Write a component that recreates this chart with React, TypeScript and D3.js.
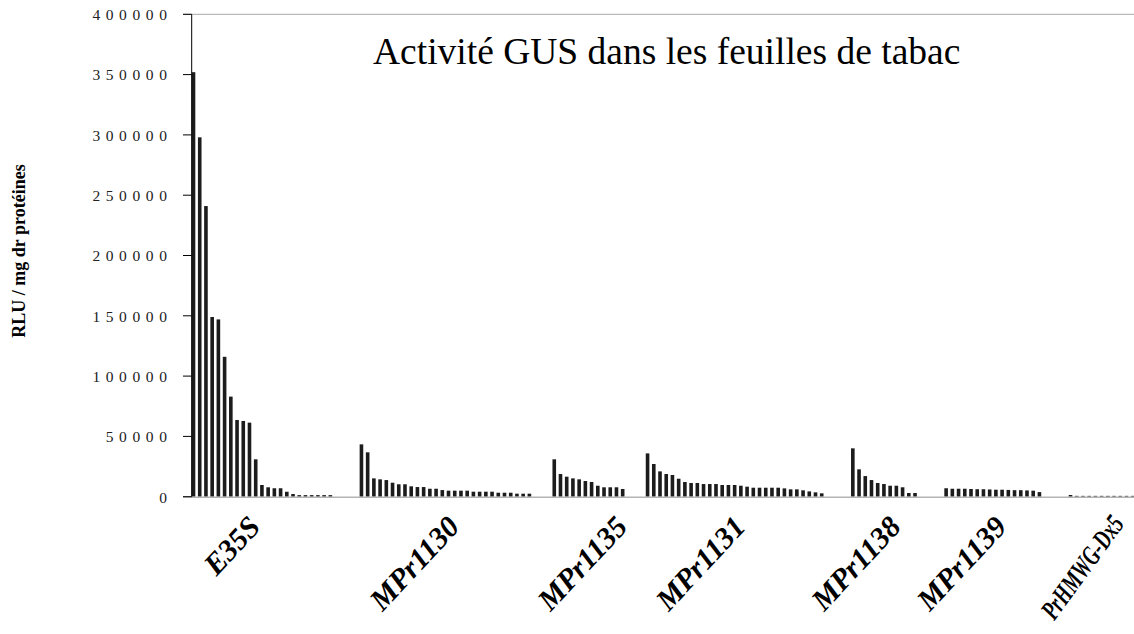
import React, { useEffect, useRef } from "react";
import * as d3 from "d3";

const WIDTH = 1134;
const HEIGHT = 634;

// RLU / mg protein, one bar per tobacco plant
const e35s = [352000, 298000, 241000, 149000, 147000, 116000, 83000, 63600, 62800, 61400, 31000, 9700, 7800, 7000, 7000, 4100, 2200, 1300, 1300, 1300, 1300, 1300, 1300];
const mpr1130 = [43400, 36800, 15200, 14400, 13800, 11600, 10300, 10300, 8600, 8000, 8000, 6600, 6600, 5500, 5000, 5000, 5000, 5000, 4150, 4150, 4150, 4150, 3300, 3300, 3300, 2500, 2500, 2500];
const mpr1135 = [31000, 18800, 16600, 15200, 14400, 13000, 12200, 9100, 7800, 7800, 7800, 6400];
const mpr1131 = [35900, 27100, 21000, 18800, 18000, 14900, 12200, 11350, 11350, 10500, 10500, 10500, 9700, 9700, 9700, 9100, 8300, 7450, 7450, 7450, 7450, 7450, 6900, 6100, 6100, 5300, 4400, 3600, 2800];
const mpr1138 = [40100, 22700, 17100, 13800, 11350, 10500, 9100, 9100, 7800, 3050, 3050];
const mpr1139 = [7000, 6600, 6600, 6600, 6400, 6200, 6200, 6000, 5800, 5800, 5600, 5400, 5400, 5200, 5000, 3800];
const prhmwg = [1400, 700, 700, 700, 700, 700, 700, 700, 700, 700, 700];

const groupNames = ["E35S", "MPr1130", "MPr1135", "MPr1131", "MPr1138", "MPr1139", "PrHMWG-Dx5"];
const groupValues = [e35s, mpr1130, mpr1135, mpr1131, mpr1138, mpr1139, prhmwg];
// empty categories between two groups
const emptyBetween = [4, 3, 3, 4, 4, 4];
// category that carries each group name on the axis
const labelCategory = [11, 43, 70, 89, 114, 131, 151];
const yTicks = [0, 50000, 100000, 150000, 200000, 250000, 300000, 350000, 400000];

const title = "Activité GUS dans les feuilles de tabac";
const yTitle = "RLU / mg dr protéines";

const serif = "'Liberation Serif', 'Times New Roman', serif";

function buildCategories() {
  const out: (number | null)[] = [];
  groupValues.forEach((vals, g) => {
    vals.forEach((v) => out.push(v));
    if (g < emptyBetween.length) {
      for (let k = 0; k < emptyBetween[g]; k++) out.push(null);
    }
  });
  return out;
}

export default function App() {
  const ref = useRef<SVGSVGElement>(null);

  useEffect(() => {
    const svg = d3.select(ref.current);
    svg.selectAll("*").remove();

    const left = 191.7;
    const top = 14.3;
    const bottom = 496.7;
    const step = 6.22;

    const cats = buildCategories();

    const x = d3
      .scaleBand<number>()
      .domain(d3.range(cats.length))
      .range([left, left + cats.length * step])
      .padding(0);
    const y = d3.scaleLinear().domain([0, 400000]).range([bottom, top]);

    // top border
    svg
      .append("line")
      .attr("x1", 183)
      .attr("x2", WIDTH)
      .attr("y1", y(400000))
      .attr("y2", y(400000))
      .attr("stroke", "#a8a8a8")
      .attr("stroke-width", 1);

    // bars
    svg
      .append("g")
      .selectAll("rect")
      .data(cats.map((v, i) => ({ v, i })).filter((d) => d.v !== null))
      .join("rect")
      .attr("x", (d) => x(d.i)!)
      .attr("y", (d) => y(d.v as number))
      .attr("width", x.bandwidth() * 0.58)
      .attr("height", (d) => bottom - y(d.v as number))
      .attr("fill", "#1c1c1c");

    // baseline
    svg
      .append("line")
      .attr("x1", 183)
      .attr("x2", WIDTH)
      .attr("y1", bottom + 0.5)
      .attr("y2", bottom + 0.5)
      .attr("stroke", "#b4b4b4")
      .attr("stroke-width", 1.5);

    // y axis
    svg
      .append("line")
      .attr("x1", left)
      .attr("x2", left)
      .attr("y1", top)
      .attr("y2", bottom)
      .attr("stroke", "#000")
      .attr("stroke-width", 1);

    const ticks = svg.append("g");
    ticks
      .selectAll("line")
      .data(yTicks)
      .join("line")
      .attr("x1", 183)
      .attr("x2", left)
      .attr("y1", (d) => y(d))
      .attr("y2", (d) => y(d))
      .attr("stroke", "#000")
      .attr("stroke-width", 1);
    ticks
      .selectAll("text")
      .data(yTicks)
      .join("text")
      .attr("x", 172.5)
      .attr("y", (d) => y(d))
      .attr("dy", "0.38em")
      .attr("text-anchor", "end")
      .attr("font-family", serif)
      .attr("font-size", 15.5)
      .attr("letter-spacing", 5.6)
      .attr("fill", "#222")
      .text((d) => String(d));

    // group names under the axis; the last one is narrower so it fits
    const last = groupNames.length - 1;
    svg
      .append("g")
      .selectAll("text")
      .data(groupNames)
      .join("text")
      .attr("transform", (d, i) => {
        const cx = x(labelCategory[i])! + x.bandwidth() * 0.29;
        if (i === last) {
          return `translate(${Math.min(cx, WIDTH - 9)},524) rotate(-54) scale(1,1.45)`;
        }
        return `translate(${cx},528) rotate(-47)`;
      })
      .attr("text-anchor", "end")
      .attr("font-family", serif)
      .attr("font-weight", "bold")
      .attr("font-style", "italic")
      .attr("font-size", (d, i) => (i === last ? 19 : 30))
      .attr("fill", "#000")
      .text((d) => d);

    // y title
    svg
      .append("text")
      .attr("transform", "translate(25,251) rotate(-90)")
      .attr("text-anchor", "middle")
      .attr("font-family", serif)
      .attr("font-weight", "bold")
      .attr("font-size", 18)
      .attr("fill", "#000")
      .text(yTitle);

    // chart title
    svg
      .append("text")
      .attr("x", 373)
      .attr("y", 64)
      .attr("font-family", serif)
      .attr("font-size", 37.5)
      .attr("fill", "#000")
      .text(title);
  }, []);

  return (
    <svg
      ref={ref}
      width={WIDTH}
      height={HEIGHT}
      style={{ position: "absolute", left: 0, top: 0, background: "#fff" }}
    />
  );
}
